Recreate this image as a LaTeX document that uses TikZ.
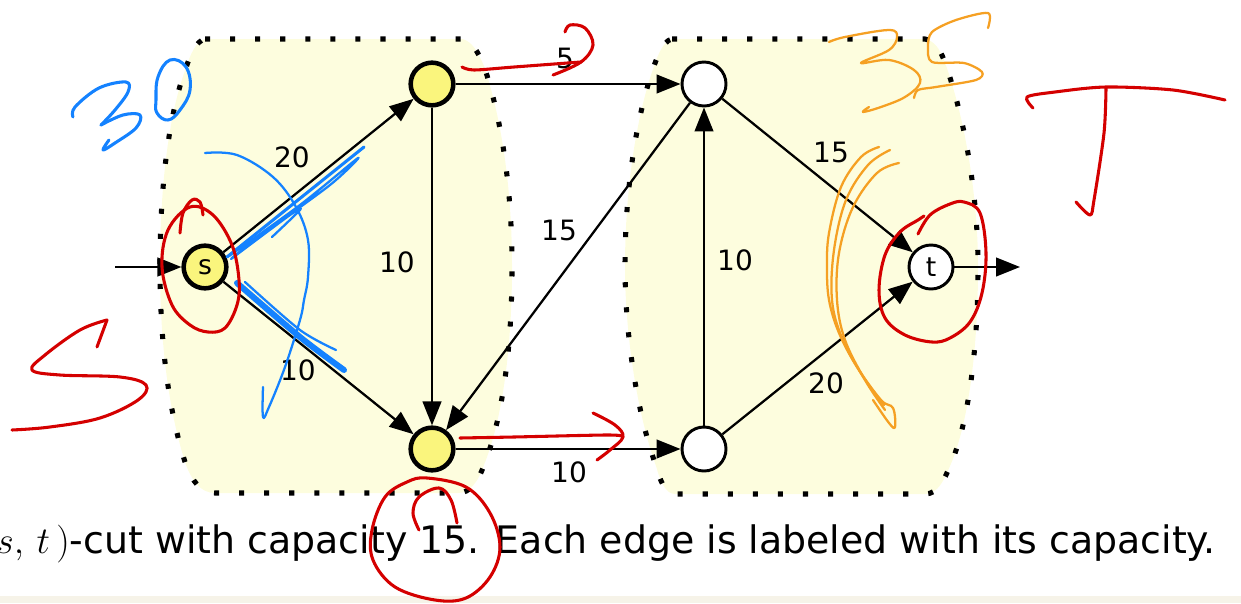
\documentclass[tikz,border=0pt]{standalone}
\usepackage{fix-cm}
\usepackage{fontspec}
\setmainfont{DejaVu Sans}
\usetikzlibrary{arrows.meta}
\definecolor{blobfill}{RGB}{253,253,222}
\definecolor{nodey}{RGB}{250,245,125}
\definecolor{hred}{RGB}{212,0,0}
\definecolor{hblue}{RGB}{20,130,255}
\definecolor{horange}{RGB}{245,160,35}
\definecolor{band}{RGB}{246,243,232}
\tikzset{
  ynode/.style={circle, draw=black, line width=3.4pt, fill=nodey, minimum size=32pt, inner sep=0pt, font=\fontsize{20}{24}\selectfont},
  wnode/.style={circle, draw=black, line width=2.2pt, fill=white, minimum size=33pt, inner sep=0pt, font=\fontsize{20}{24}\selectfont},
  arr/.style={line width=1.7pt, -{Triangle[length=18pt,width=14pt]}},
  lbl/.style={font=\fontsize{21}{24}\selectfont, inner sep=0pt},
  blob/.style={fill=blobfill, draw=black, line width=3.8pt, dash pattern=on 3.8pt off 15pt},
  hand/.style={line width=2.3pt, line cap=round, line join=round},
  thinhand/.style={line width=1.7pt, line cap=round, line join=round},
}
\begin{document}
\begin{tikzpicture}[x=0.75pt,y=-0.75pt]
\useasboundingbox (0,0) rectangle (1241,603);
\fill[band] (0,596) rectangle (1241,603);
% cut regions
\path[blob] (205,39) -- (462,39) .. controls (472,41) and (478,52) .. (484,66)
  .. controls (502,120) and (512,190) .. (512,267)
  .. controls (512,350) and (502,420) .. (484,465)
  .. controls (478,482) and (470,493) .. (458,493) -- (215,493)
  .. controls (200,493) and (192,480) .. (186,465)
  .. controls (168,410) and (160,340) .. (160,267)
  .. controls (160,180) and (170,110) .. (186,68)
  .. controls (190,55) and (196,41) .. (205,39) -- cycle;
\path[blob] (672,39) -- (925,39) .. controls (935,41) and (940,50) .. (944,60)
  .. controls (966,120) and (978,200) .. (978,267)
  .. controls (978,360) and (966,430) .. (950,466)
  .. controls (944,480) and (938,494) .. (925,494) -- (675,494)
  .. controls (665,494) and (660,480) .. (656,466)
  .. controls (636,410) and (625,330) .. (625,267)
  .. controls (625,190) and (636,120) .. (652,72)
  .. controls (656,60) and (662,41) .. (672,39) -- cycle;
% nodes
\node[ynode] (s) at (205,267) {s};
\node[ynode] (u) at (432,84) {};
\node[ynode] (v) at (432,449) {};
\node[wnode] (w) at (704,84) {};
\node[wnode] (x) at (704,449) {};
\node[wnode] (t) at (931,267) {t};
\coordinate (in) at (115,267);
\coordinate (out) at (1020,267);
% edges
\draw[arr] (in) -- (s);
\draw[arr] (s) -- (u);
\draw[arr] (s) -- (v);
\draw[arr] (u) -- (v);
\draw[arr] (u) -- (w);
\draw[arr] (w) -- (v);
\draw[arr] (v) -- (x);
\draw[arr] (x) -- (w);
\draw[arr] (w) -- (t);
\draw[arr] (x) -- (t);
\draw[arr] (t) -- (out);
% capacities
\node[lbl] (c1) at (292,157) {20};
\node[lbl] (c2) at (298,370) {10};
\node[lbl] (c3) at (397,262) {10};
\node[lbl] (c4) at (565,58) {5};
\node[lbl] (c5) at (559,230) {15};
\node[lbl] (c6) at (569,472) {10};
\node[lbl] (c7) at (735,260) {10};
\node[lbl] (c8) at (831,152) {15};
\node[lbl] (c9) at (826,383) {20};
% caption
\node[anchor=base east, inner sep=0pt, font=\fontsize{28.4}{32}\selectfont] (cap) at (1216,553)
  {$(s,\,t\,)$-cut with capacity 15. Each edge is labeled with its capacity.};
% ---- handwritten annotations ----
% blue 30
\draw[hblue,hand] plot[smooth,tension=0.6] coordinates {(73,117) (75,107) (99,88) (126,82) (128,92) (115,110) (101,125)};
\draw[hblue,hand] plot[smooth,tension=0.6] coordinates {(101,125) (123,115) (140,115) (136,128) (115,143) (103,150) (109,140)};
\draw[hblue,hand] plot[smooth cycle,tension=0.7] coordinates {(156,100) (158,77) (170,60) (186,67) (190,90) (180,110) (168,120) (157,113)};
% blue arc
\draw[hblue,thinhand] plot[smooth,tension=0.6] coordinates {(205,153) (237,155) (273,177) (296,207) (308,240) (308,277) (304,300) (300,320) (285,367) (269,407) (263,417) (263,387)};
% blue scribbles on edges
\draw[hblue,hand] (227,257) -- (364,147);
\draw[hblue,thinhand] plot[smooth,tension=0.5] coordinates {(229,256) (300,205) (358,158) (330,185) (260,236) (232,258)};
\draw[hblue,thinhand] plot[smooth,tension=0.5] coordinates {(231,259) (290,215) (300,210) (272,237)};
\draw[hblue,line width=4.5pt,line cap=round] plot[smooth] coordinates {(237,283) (300,337) (344,370)};
\draw[hblue,thinhand] plot[smooth] coordinates {(245,282) (300,330) (336,350)};
% red S
\draw[hred,hand] (97,347) -- (107,320);
\draw[hred,hand] plot[smooth,tension=0.6] coordinates {(107,320) (80,330) (45,355) (32,370) (60,375) (120,377) (146,385) (138,400) (100,418) (50,427) (12,430)};
% red ellipse around s
\draw[hred,hand] plot[smooth cycle,tension=0.6] coordinates {(162,267) (168,230) (190,207) (213,215) (232,245) (239,280) (237,305) (225,328) (208,332) (190,325) (172,305)};
\draw[hred,hand] plot[smooth,tension=0.6] coordinates {(180,233) (183,213) (192,200) (200,202) (203,215)};
% red arrows
\draw[hred,hand] plot[smooth,tension=0.5] coordinates {(462,67) (474,70) (514,67) (581,62)};
\draw[hred,hand] plot[smooth,tension=0.6] coordinates {(553,75) (581,62) (593,45) (585,28) (570,25) (565,32)};
\draw[hred,hand] plot[smooth,tension=0.5] coordinates {(460,438) (514,437) (605,435) (622,436)};
\draw[hred,hand] plot[smooth,tension=0.6] coordinates {(593,413) (615,425) (623,437) (610,450) (597,460)};
% red circle around 15
\draw[hred,hand] plot[smooth cycle,tension=0.6] coordinates {(427,478) (466,487) (490,513) (500,547) (490,577) (466,598) (435,600) (395,587) (373,560) (372,530) (385,497) (407,482)};
\draw[hred,hand] plot[smooth,tension=0.6] coordinates {(419,530) (413,513) (419,497) (439,488) (451,500) (457,523)};
% red T
\draw[hred,hand] plot[smooth,tension=0.5] coordinates {(1033,108) (1027,97) (1055,92) (1106,87) (1173,90) (1225,100)};
\draw[hred,hand] plot[smooth,tension=0.5] coordinates {(1106,88) (1104,133) (1094,200) (1090,215) (1076,202)};
% red ellipse around t
\draw[hred,hand] plot[smooth,tension=0.6] coordinates {(918,234) (930,215) (950,204) (964,202) (980,213) (986,253) (982,293) (970,322) (950,338) (932,342) (905,335) (885,318) (879,290) (885,255) (900,232) (918,220) (924,216)};
% orange 35
\draw[horange,thinhand] plot[smooth,tension=0.6] coordinates {(829,42) (845,37) (889,30) (897,37) (889,50) (861,63) (889,60) (914,70) (920,83) (905,97) (881,107) (863,112) (869,107)};
\draw[horange,thinhand] plot[smooth,tension=0.5] coordinates {(988,28) (988,13) (956,20) (932,32) (928,47) (932,62) (964,63) (982,72) (976,80) (936,87) (918,90) (914,98)};
% orange loops
\draw[horange,thinhand] plot[smooth,tension=0.6] coordinates {(879,147) (861,157) (841,187) (829,233) (827,267) (829,300) (839,333) (857,367) (881,400) (893,408) (895,427) (889,423) (873,400)};
\draw[horange,thinhand] plot[smooth,tension=0.6] coordinates {(899,163) (877,173) (853,207) (839,253) (837,300) (845,340) (865,380) (885,410)};
\draw[horange,thinhand] plot[smooth,tension=0.6] coordinates {(890,150) (868,165) (846,200) (834,250) (832,300) (842,338) (862,375) (884,405)};
\end{tikzpicture}
\end{document}
